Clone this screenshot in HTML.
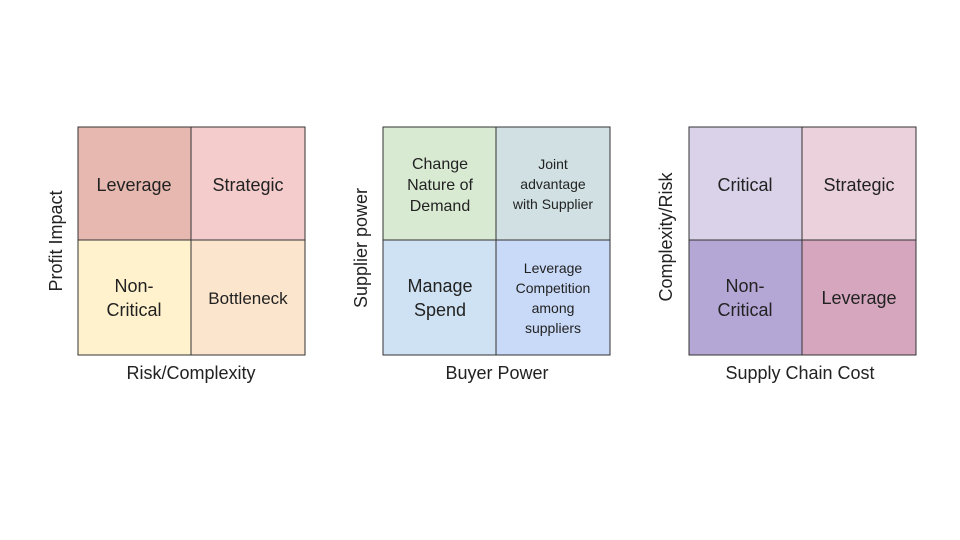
<!DOCTYPE html>
<html><head><meta charset="utf-8"><style>
html,body{margin:0;padding:0;background:#fff;}
svg{display:block;}
text{font-family:"Liberation Sans",sans-serif;fill:#222;}
</style></head><body>
<svg width="960" height="540" viewBox="0 0 960 540">
<g stroke="#333" stroke-width="1">
<rect x="78" y="127" width="113" height="113" fill="#e6b8af"/>
<rect x="191" y="127" width="114" height="113" fill="#f4cccc"/>
<rect x="78" y="240" width="113" height="115" fill="#fff2cc"/>
<rect x="191" y="240" width="114" height="115" fill="#fce5cd"/>

<rect x="383" y="127" width="113" height="113" fill="#d9ead3"/>
<rect x="496" y="127" width="114" height="113" fill="#d0e0e3"/>
<rect x="383" y="240" width="113" height="115" fill="#cfe2f3"/>
<rect x="496" y="240" width="114" height="115" fill="#c9daf8"/>

<rect x="689" y="127" width="113" height="113" fill="#d9d2e9"/>
<rect x="802" y="127" width="114" height="113" fill="#ead1dc"/>
<rect x="689" y="240" width="113" height="115" fill="#b4a7d6"/>
<rect x="802" y="240" width="114" height="115" fill="#d5a6bd"/>
</g>
<g text-anchor="middle" font-size="18">
<text x="134" y="191">Leverage</text>
<text x="248" y="191">Strategic</text>
<text x="134" y="292">Non-</text>
<text x="134" y="316">Critical</text>
<text x="248" y="304" font-size="17">Bottleneck</text>
<text x="191" y="379">Risk/Complexity</text>
<text x="62" y="241" transform="rotate(-90 62 241)">Profit Impact</text>

<text x="440" y="169" font-size="16">Change</text>
<text x="440" y="190" font-size="16">Nature of</text>
<text x="440" y="211" font-size="16">Demand</text>
<text x="553" y="169" font-size="14">Joint</text>
<text x="553" y="189" font-size="14">advantage</text>
<text x="553" y="209" font-size="14">with Supplier</text>
<text x="440" y="292">Manage</text>
<text x="440" y="316">Spend</text>
<text x="553" y="273" font-size="14">Leverage</text>
<text x="553" y="293" font-size="14">Competition</text>
<text x="553" y="313" font-size="14">among</text>
<text x="553" y="333" font-size="14">suppliers</text>
<text x="497" y="379">Buyer Power</text>
<text x="367" y="248" transform="rotate(-90 367 248)">Supplier power</text>

<text x="745" y="191">Critical</text>
<text x="859" y="191">Strategic</text>
<text x="745" y="292">Non-</text>
<text x="745" y="316">Critical</text>
<text x="859" y="304">Leverage</text>
<text x="800" y="379">Supply Chain Cost</text>
<text x="672" y="237" transform="rotate(-90 672 237)">Complexity/Risk</text>
</g>
</svg>
</body></html>
